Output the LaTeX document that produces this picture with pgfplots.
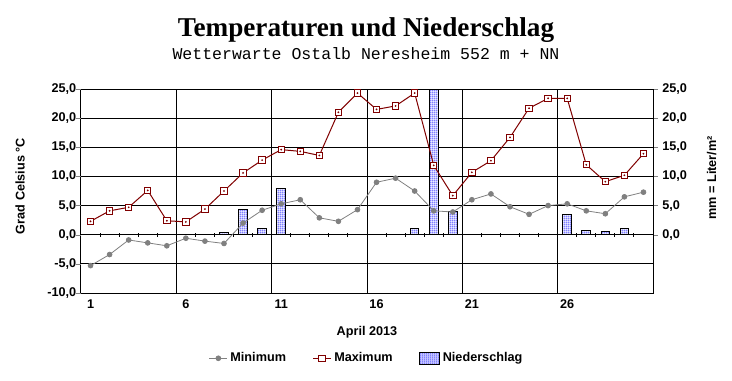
\documentclass[border=0pt]{standalone}
\usepackage{pgfplots}
\pgfplotsset{compat=1.18}
\usepackage{pgfplotstable}
\usepackage{fontspec}
\setmainfont{Liberation Sans}
\newfontfamily\titlefont{Liberation Serif}
\newfontfamily\subfont{Liberation Mono}
\usetikzlibrary{patterns}
\definecolor{maxred}{RGB}{128,0,0}
\definecolor{mingray}{RGB}{128,128,128}
\definecolor{precblue}{RGB}{0,0,255}
\pgfdeclarepatternformonly{densedots}{\pgfqpoint{0pt}{0pt}}{\pgfqpoint{1.4pt}{1.4pt}}{\pgfqpoint{1.4pt}{1.4pt}}{\pgfpathcircle{\pgfqpoint{0.7pt}{0.7pt}}{0.55pt}\pgfusepath{fill}}
\newcommand\lbl{\bfseries\fontsize{9.5}{11}\selectfont}
\pgfplotsset{
  shortline legend/.style={legend image code/.code={\draw[mark repeat=2,mark phase=2,##1] plot coordinates {(0pt,0pt) (6.75pt,0pt) (13.5pt,0pt)};}},
  box legend/.style={legend image code/.code={\draw[##1] (0pt,-4.5pt) rectangle (14.8pt,4.5pt);}},
}

\pgfplotstableread{
day min max
1 -5.3 2.3
2 -3.4 4.1
3 -0.9 4.7
4 -1.4 7.6
5 -1.9 2.4
6 -0.6 2.2
7 -1.1 4.4
8 -1.5 7.5
9 2.0 10.6
10 4.2 12.8
11 5.3 14.6
12 6.0 14.3
13 2.9 13.6
14 2.3 21.0
15 4.3 24.3
16 9.0 21.5
17 9.7 22.1
18 7.5 24.3
19 4.1 11.9
20 3.9 6.7
21 6.0 10.7
22 7.0 12.7
23 4.8 16.7
24 3.5 21.7
25 5.0 23.4
26 5.3 23.4
27 4.1 12.0
28 3.6 9.1
29 6.5 10.2
30 7.3 13.9
}\temps

\pgfplotstableread{
day prec
8 0.3
9 4.4
10 1.0
11 8.0
18 1.1
19 24.9
20 3.9
21 0.1
26 3.4
27 0.8
28 0.6
29 1.0
}\prec

\begin{document}
\begin{tikzpicture}
\path[use as bounding box] (0,0) rectangle (549pt,285pt);
\node[anchor=base, font=\titlefont\bfseries\fontsize{20.4}{24}\selectfont] at (274.5pt,258pt) {Temperaturen und Niederschlag};
\node[anchor=base, font=\subfont\fontsize{12.4}{14}\selectfont] at (274.5pt,240.5pt) {Wetterwarte Ostalb Neresheim 552 m + NN};
\begin{axis}[
  at={(60.75pt,65.25pt)}, anchor=south west,
  width=429pt, height=153pt, scale only axis,
  xmin=0.5, xmax=30.5, ymin=-10, ymax=25,
  xtick={1,6,11,16,21,26},
  ytick={-10,-5,...,25},
  major tick length=0pt,
  extra y ticks={-10,-5,...,25},
  extra y tick labels={},
  extra y tick style={major tick length=3.5pt, tick align=outside, ytick pos=left},
  ymajorgrids,
  grid style={black, line width=0.75pt, solid},
  axis line style={line width=0.75pt},
  /pgf/number format/assume math mode=true,
  tick label style={font=\lbl},
  yticklabel style={/pgf/number format/.cd, fixed, fixed zerofill, precision=1, use comma, assume math mode=true},
  xticklabel style={yshift=-1.5pt},
  label style={font=\lbl},
  xlabel={April 2013},
  xlabel style={at={(axis description cs:0.5,-0.209)}, anchor=base},
  ylabel={Grad Celsius °C},
  ylabel style={at={(axis description cs:-0.1066,0.524)}, anchor=center},
  legend style={at={(axis description cs:0.5,-0.32)}, anchor=center, draw=none, fill=none, font=\lbl,
    legend columns=3, /tikz/every even column/.append style={column sep=18pt}, cells={anchor=west}},
]
\pgfplotsinvokeforeach{5.5,10.5,15.5,20.5,25.5}{
  \draw[black, line width=0.75pt] (axis cs:#1,-10) -- (axis cs:#1,25);
}
\addlegendimage{shortline legend, mingray, line width=0.6pt, mark=*, mark size=1.8pt, mark options={fill=mingray, draw=mingray}}
\addlegendentry{Minimum}
\addlegendimage{shortline legend, maxred, line width=0.75pt, mark=square*, mark size=2.4pt, mark options={fill=white, draw=maxred, solid}}
\addlegendentry{Maximum}
\addlegendimage{box legend, draw=black, line width=0.75pt, fill=white, postaction={pattern=densedots, pattern color=precblue}}
\addlegendentry{Niederschlag}

\addplot[ybar, bar width=0.45, draw=black, line width=0.75pt, fill=white,
  postaction={pattern=densedots, pattern color=precblue}, forget plot] table[x=day, y=prec] {\prec};
\pgfplotsinvokeforeach{1.5,2.5,...,29.5}{
  \draw[black, line width=0.75pt] ([yshift=1.25pt]axis cs:#1,0) -- ([yshift=-1.5pt]axis cs:#1,0);
}
\addplot[mingray, line width=0.6pt, mark=*, mark size=1.8pt, mark options={fill=mingray, draw=mingray}, forget plot]
  table[x=day, y=min] {\temps};
\addplot[maxred, line width=0.75pt, mark=square*, mark size=2.4pt, mark options={fill=white, draw=maxred, solid}, forget plot]
  table[x=day, y=max] {\temps};
\addplot[only marks, mark=*, mark size=0.45pt, maxred, forget plot] table[x=day, y=max] {\temps};
\end{axis}
\begin{axis}[
  at={(60.75pt,65.25pt)}, anchor=south west,
  width=429pt, height=153pt, scale only axis,
  xmin=0.5, xmax=30.5, ymin=-10, ymax=25,
  axis x line=none, axis y line*=right,
  ytick={0,5,...,25},
  tick align=outside, major tick length=3.5pt,
  axis line style={line width=0.75pt},
  /pgf/number format/assume math mode=true,
  tick label style={font=\lbl},
  yticklabel style={/pgf/number format/.cd, fixed, fixed zerofill, precision=1, use comma, assume math mode=true},
  label style={font=\lbl},
  ylabel={mm = Liter/m²},
  ylabel style={at={(axis description cs:1.1026,0.564)}, anchor=center},
]
\end{axis}
\end{tikzpicture}
\end{document}
